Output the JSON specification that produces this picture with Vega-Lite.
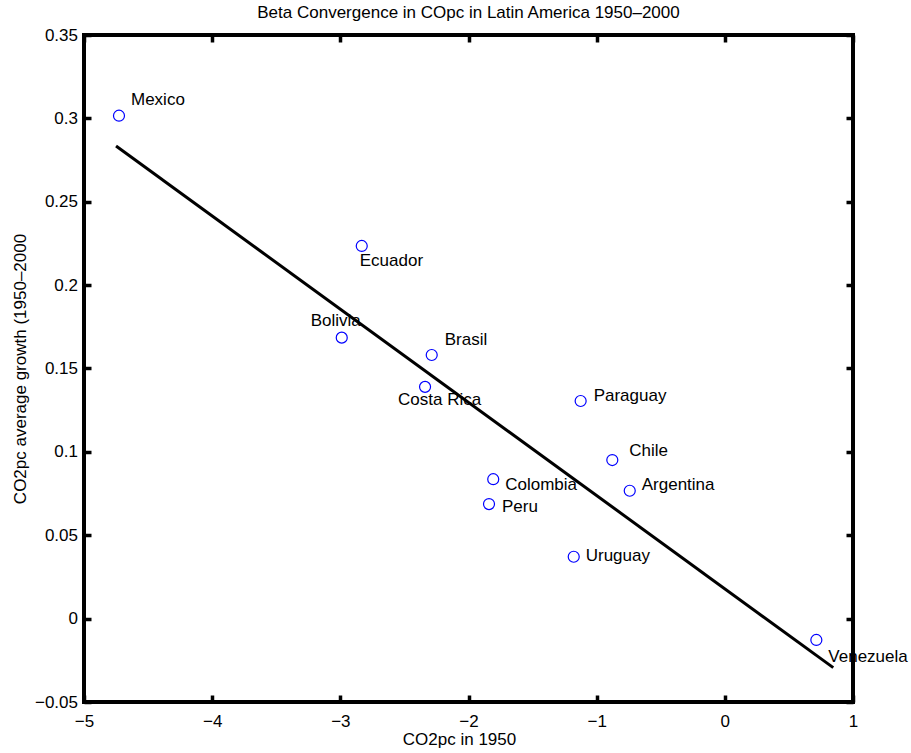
{
  "$schema": "https://vega.github.io/schema/vega-lite/v6.json",
  "width": 769,
  "height": 667,
  "autosize": "none",
  "padding": {"left": 84, "top": 35, "right": 58, "bottom": 51},
  "background": "white",
  "title": {"text": "Beta Convergence in COpc in Latin America 1950–2000", "font": "Liberation Sans", "fontSize": 17, "fontWeight": "normal", "color": "black", "frame": "group", "offset": 4},
  "config": {
    "view": {"stroke": "black", "strokeWidth": 4},
    "axis": {"domain": false, "grid": false, "labelFont": "Liberation Sans", "labelFontSize": 17, "labelColor": "black", "titleFont": "Liberation Sans", "titleFontSize": 17, "titleFontWeight": "normal", "titleColor": "black", "tickColor": "black", "tickWidth": 3.5, "tickSize": -7, "labelFlush": false, "labelOverlap": false, "labelBound": false},
    "text": {"font": "Liberation Sans", "fontSize": 17, "color": "black", "align": "left", "baseline": "middle"}
  },
  "datasets": {
    "countries": [
      {"name": "Mexico", "co2_1950": -4.727, "growth": 0.3016},
      {"name": "Ecuador", "co2_1950": -2.833, "growth": 0.2235},
      {"name": "Bolivia", "co2_1950": -2.989, "growth": 0.1685},
      {"name": "Brasil", "co2_1950": -2.287, "growth": 0.1581},
      {"name": "Costa Rica", "co2_1950": -2.339, "growth": 0.139},
      {"name": "Paraguay", "co2_1950": -1.125, "growth": 0.1305},
      {"name": "Chile", "co2_1950": -0.878, "growth": 0.0951},
      {"name": "Argentina", "co2_1950": -0.742, "growth": 0.0767},
      {"name": "Colombia", "co2_1950": -1.807, "growth": 0.0836},
      {"name": "Peru", "co2_1950": -1.84, "growth": 0.0687},
      {"name": "Uruguay", "co2_1950": -1.179, "growth": 0.0371},
      {"name": "Venezuela", "co2_1950": 0.714, "growth": -0.0128}
    ],
    "fit": [
      {"co2_1950": -4.75, "growth": 0.2834},
      {"co2_1950": 0.846, "growth": -0.0294}
    ]
  },
  "resolve": {"axis": {"x": "independent", "y": "independent"}},
  "layer": [
    {
      "mark": {"type": "rule", "color": "#333333", "strokeWidth": 1, "strokeDash": [8, 6]},
      "encoding": {"y": {"datum": 0, "type": "quantitative", "scale": {"domain": [-0.05, 0.35], "nice": false, "zero": false}, "axis": null}}
    },
    {
      "mark": {"type": "rule", "color": "#333333", "strokeWidth": 1, "strokeDash": [8, 6]},
      "encoding": {"x": {"datum": 0, "type": "quantitative", "scale": {"domain": [-5, 1], "nice": false, "zero": false}, "axis": null}}
    },
    {
      "data": {"name": "fit"},
      "mark": {"type": "line", "color": "black", "strokeWidth": 3},
      "encoding": {
        "x": {"field": "co2_1950", "type": "quantitative", "scale": {"domain": [-5, 1], "nice": false, "zero": false}, "axis": {"orient": "top", "values": [-5, -4, -3, -2, -1, 0, 1], "labels": false, "title": null}},
        "y": {"field": "growth", "type": "quantitative", "scale": {"domain": [-0.05, 0.35], "nice": false, "zero": false}, "axis": {"orient": "right", "values": [-0.05, 0, 0.05, 0.1, 0.15, 0.2, 0.25, 0.3, 0.35], "labels": false, "title": null}}
      }
    },
    {
      "data": {"name": "countries"},
      "mark": {"type": "point", "shape": "circle", "filled": false, "stroke": "#0000ff", "strokeWidth": 1.2, "size": 121, "opacity": 1},
      "encoding": {
        "x": {"field": "co2_1950", "type": "quantitative", "scale": {"domain": [-5, 1], "nice": false, "zero": false}, "axis": {"orient": "bottom", "values": [-5, -4, -3, -2, -1, 0, 1], "format": "d", "labelPadding": 18, "title": "CO2pc in 1950", "titlePadding": 2, "titleX": 375}},
        "y": {"field": "growth", "type": "quantitative", "scale": {"domain": [-0.05, 0.35], "nice": false, "zero": false}, "axis": {"orient": "left", "values": [-0.05, 0, 0.05, 0.1, 0.15, 0.2, 0.25, 0.3, 0.35], "format": ".2~f", "labelPadding": 13.5, "title": "CO2pc average growth (1950–2000", "titlePadding": 5}}
      }
    },
    {
      "data": {"name": "countries"},
      "encoding": {
        "x": {"field": "co2_1950", "type": "quantitative", "scale": {"domain": [-5, 1], "nice": false, "zero": false}, "axis": null},
        "y": {"field": "growth", "type": "quantitative", "scale": {"domain": [-0.05, 0.35], "nice": false, "zero": false}, "axis": null},
        "text": {"field": "name"}
      },
      "layer": [
        {"transform": [{"filter": "datum.name === 'Mexico'"}], "mark": {"type": "text", "dx": 12, "dy": -16}},
        {"transform": [{"filter": "datum.name === 'Ecuador'"}], "mark": {"type": "text", "dx": -2, "dy": 15}},
        {"transform": [{"filter": "datum.name === 'Bolivia'"}], "mark": {"type": "text", "dx": -31, "dy": -17}},
        {"transform": [{"filter": "datum.name === 'Brasil'"}], "mark": {"type": "text", "dx": 13, "dy": -15}},
        {"transform": [{"filter": "datum.name === 'Costa Rica'"}], "mark": {"type": "text", "dx": -27, "dy": 13}},
        {"transform": [{"filter": "datum.name === 'Paraguay'"}], "mark": {"type": "text", "dx": 13, "dy": -5}},
        {"transform": [{"filter": "datum.name === 'Chile'"}], "mark": {"type": "text", "dx": 17, "dy": -9}},
        {"transform": [{"filter": "datum.name === 'Argentina'"}], "mark": {"type": "text", "dx": 12, "dy": -6}},
        {"transform": [{"filter": "datum.name === 'Colombia'"}], "mark": {"type": "text", "dx": 12, "dy": 6}},
        {"transform": [{"filter": "datum.name === 'Peru'"}], "mark": {"type": "text", "dx": 13, "dy": 3}},
        {"transform": [{"filter": "datum.name === 'Uruguay'"}], "mark": {"type": "text", "dx": 12, "dy": -1}},
        {"transform": [{"filter": "datum.name === 'Venezuela'"}], "mark": {"type": "text", "dx": 12, "dy": 17}}
      ]
    }
  ]
}
